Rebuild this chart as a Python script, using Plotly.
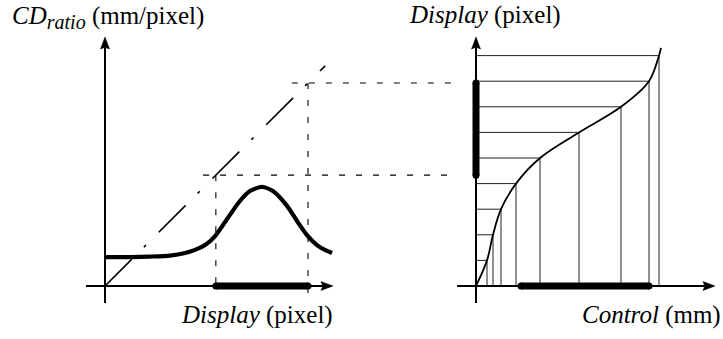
import plotly.graph_objects as go

# ---------------------------------------------------------------- values
# Left plot: CD ratio (mm/pixel) against display position (display units)
cd_display = [0.0, 0.98, 1.76, 2.54, 3.13, 3.52, 3.91, 4.30, 4.77, 5.27, 5.66,
              6.13, 6.56, 7.11, 7.50, 7.89, 8.28, 8.59, 8.87]
cd_ratio = [1.13, 1.13, 1.15, 1.19, 1.29, 1.41, 1.60, 1.95, 2.62, 3.32, 3.71,
            3.87, 3.71, 3.13, 2.54, 1.99, 1.60, 1.41, 1.29]

# 45-degree reference line (display = display)
diag_display = [0.0, 8.6]

# Right plot: transfer function, control (mm) reached at each display step
display_steps = [0, 1, 2, 3, 4, 5, 6, 7, 8, 9]
control_mm = [0.0, 1.1, 1.7, 2.5, 4.0, 6.4, 10.3, 14.5, 17.3, 18.3]
curve_tip = (18.5, 9.3)          # (control mm, display) where the curve stops

# Highlighted display interval and the control interval it maps to
display_range = [4.33, 7.93]
control_range = [4.5, 17.3]

# ---------------------------------------------------------------- geometry
W, H = 723, 339
PX_D = 25.6          # pixels per display unit (both axes of the left plot, y of the right)
PX_MM = 10.0         # pixels per mm on the right plot's control axis
ORIG_L = 105         # x pixel of the left origin
ORIG_R = 476         # x pixel of the right origin
ORIG_Y = 286         # y pixel (from top) of both origins

AX_W = 2.0
INK = "#000000"
HEAD_L, HEAD_HW = 12.0, 4.5   # arrowhead length / half width in px

fig = go.Figure()


def line(xs, ys, xa="x", width=1.0, dash=None, shape="linear", color=INK, smoothing=1.0):
    fig.add_trace(go.Scatter(
        x=xs, y=ys, xaxis=xa, yaxis="y", mode="lines",
        line=dict(color=color, width=width, dash=dash, shape=shape, smoothing=smoothing),
        hoverinfo="skip", showlegend=False))


def thick_bar(xs, ys, xa="x", width=7):
    fig.add_trace(go.Scatter(
        x=xs, y=ys, xaxis=xa, yaxis="y", mode="lines+markers",
        line=dict(color=INK, width=width),
        marker=dict(color=INK, size=width, line=dict(width=0)),
        hoverinfo="skip", showlegend=False))


def tri(xs, ys, xa="x"):
    fig.add_trace(go.Scatter(
        x=xs, y=ys, xaxis=xa, yaxis="y", mode="lines", fill="toself",
        fillcolor=INK, line=dict(color=INK, width=0.5),
        hoverinfo="skip", showlegend=False))


def arrow_axes(xa, sx, x_start_px, x_tip_px, y_start_px, y_tip_px):
    """Draw an x and a y axis through the origin of one plot, with arrowheads."""
    sy = PX_D
    # horizontal
    x0, xt = x_start_px / sx, x_tip_px / sx
    xb = (x_tip_px - HEAD_L) / sx
    xn = (x_tip_px - HEAD_L * 0.85) / sx
    line([x0, xn], [0, 0], xa, AX_W)
    tri([xt, xb, xn, xb, xt], [0, HEAD_HW / sy, 0, -HEAD_HW / sy, 0], xa)
    # vertical
    y0, yt = y_start_px / sy, y_tip_px / sy
    yb = (y_tip_px - HEAD_L) / sy
    yn = (y_tip_px - HEAD_L * 0.85) / sy
    line([0, 0], [y0, yn], xa, AX_W)
    tri([0, HEAD_HW / sx, 0, -HEAD_HW / sx, 0], [yt, yb, yn, yb, yt], xa)


# ---------------------------------------------------------------- left plot
# dashed guides from the reference line down to the display axis
GUIDE_DASH = "6px,11px"
below = -7 / PX_D
for d in display_range:
    line([d, d], [d, below], "x", 1.1, GUIDE_DASH)

# horizontal guides carried across to the right plot's display axis
right_axis_in_left = (ORIG_R - ORIG_L) / PX_D
guide_end = right_axis_in_left - 18 / PX_D
guide_lead = [0.5, 0.63]
for d, lead in zip(display_range, guide_lead):
    line([d - lead, guide_end], [d, d], "x", 1.1, GUIDE_DASH)

line(diag_display, diag_display, "x", 1.6, "38px,17px,3px,18px")
line(cd_display, cd_ratio, "x", 4.2, shape="spline", smoothing=0.7)
arrow_axes("x", PX_D, -19, 228, -17, 249)
thick_bar(display_range, [0, 0], "x")

# ---------------------------------------------------------------- right plot
gx, gy = [], []
for c, d in zip(control_mm[1:], display_steps[1:]):
    gx += [0, c, None, c, c, None]
    gy += [d, d, None, 0, d, None]
line(gx, gy, "x2", 1.0, color="#222222")

line(control_mm + [curve_tip[0]], display_steps + [curve_tip[1]], "x2", 1.8,
     shape="spline")
arrow_axes("x2", PX_MM, -19, 239, -17, 249)
thick_bar([0, 0], display_range, "x2")
thick_bar(control_range, [0, 0], "x2")

# ---------------------------------------------------------------- labels
SERIF = "Liberation Serif, Times New Roman, serif"
FONT = dict(family=SERIF, size=25, color=INK)


def label(text, x_px, y_px, xanchor):
    fig.add_annotation(text=text, x=x_px / W, y=1 - y_px / H, xref="paper", yref="paper",
                       xanchor=xanchor, yanchor="middle", showarrow=False, font=FONT)


label('<i>CD<sub><span style="font-size:20px">ratio</span></sub></i> (mm/pixel)', 10, 18, "left")
label("<i>Display</i> (pixel)", 407, 15, "left")
label("<i>Display</i> (pixel)", 335, 315, "right")
label("<i>Control</i> (mm)", 723, 315, "right")

# ---------------------------------------------------------------- axes
hidden = dict(visible=False, showgrid=False, zeroline=False, fixedrange=True)
fig.update_layout(
    width=W, height=H, margin=dict(l=0, r=0, t=0, b=0),
    paper_bgcolor="white", plot_bgcolor="white",
    font=dict(family=SERIF),
    xaxis=dict(hidden, domain=[0, 1], range=[-ORIG_L / PX_D, (W - ORIG_L) / PX_D]),
    xaxis2=dict(hidden, domain=[0, 1], overlaying="x",
                range=[-ORIG_R / PX_MM, (W - ORIG_R) / PX_MM]),
    yaxis=dict(hidden, domain=[0, 1], range=[-(H - ORIG_Y) / PX_D, ORIG_Y / PX_D]),
    showlegend=False,
)

fig.write_html("out.html", config={"displayModeBar": False})
